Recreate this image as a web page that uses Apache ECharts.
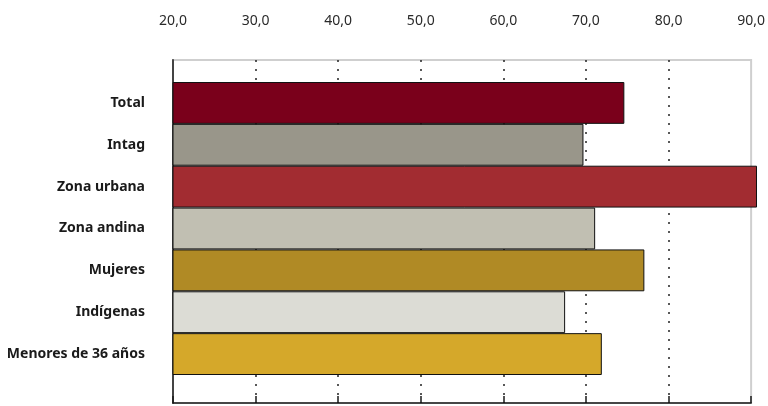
<!DOCTYPE html>
<html><head><meta charset="utf-8">
<script src="https://cdn.jsdelivr.net/npm/echarts@6/dist/echarts.min.js"></script>
<style>html,body{margin:0;padding:0;background:#fff}#c{width:768px;height:406px}</style>
</head><body><div id="c"></div>
<script>
const categories = ['Total','Intag','Zona urbana','Zona andina','Mujeres','Indígenas','Menores de 36 años'];
const values = [74.1, 69.2, 90.0, 70.6, 76.5, 67.0, 71.4];
const barColors = ['#7a001b','#99968a','#a22c31','#c1bfb2','#b08a25','#dcdcd5','#d5a82a'];
const tickValues = [20,30,40,50,60,70,80,90];
const tickLabels = ['20,0','30,0','40,0','50,0','60,0','70,0','80,0','90,0'];
const axisMin = 20, axisMax = 90, axisStep = 10;

const chart = echarts.init(document.getElementById('c'));
const font = 'Noto Sans, sans-serif';
chart.setOption({
  animation: false,
  grid: [
    {left:173, right:11, top:60, bottom:3, show:true, borderColor:'#cfcfcf', borderWidth:2, backgroundColor:'transparent'},
    {left:173, right:11, top:82, bottom:31}
  ],
  xAxis: [
    {gridIndex:0, type:'value', position:'top', min:axisMin, max:axisMax, interval:axisStep,
     axisLine:{show:true, lineStyle:{color:'#1a1a1a', width:1.5}},
     axisTick:{show:true, length:7, lineStyle:{color:'#1a1a1a', width:1.5}},
     axisLabel:{margin:32, fontFamily:font, fontSize:14, color:'#2a2a2a',
       formatter: v => { const i = tickValues.indexOf(v); return i >= 0 ? tickLabels[i] : ''; }},
     splitLine:{show:true, showMaxLine:false, lineStyle:{color:'#222', width:1.5, type:[2,7]}}},
    {gridIndex:1, type:'value', min:axisMin, max:axisMax, show:false}
  ],
  yAxis: [
    {gridIndex:0, type:'value', min:0, max:1, axisLine:{show:true, lineStyle:{color:'#444', width:2}},
     axisTick:{show:false}, axisLabel:{show:false}, splitLine:{show:false}},
    {gridIndex:1, type:'category', inverse:true, data:categories,
     axisLine:{show:false}, axisTick:{show:false},
     axisLabel:{margin:28, fontFamily:font, fontSize:14, fontWeight:'bold', color:'#1a1a1a'}}
  ],
  series: [{
    type:'bar', xAxisIndex:1, yAxisIndex:1, barCategoryGap:'0%',
    data: values.map((v,i)=>({value:v, itemStyle:{color:barColors[i], borderColor:'#111', borderWidth:1}}))
  }]
});
</script></body></html>
